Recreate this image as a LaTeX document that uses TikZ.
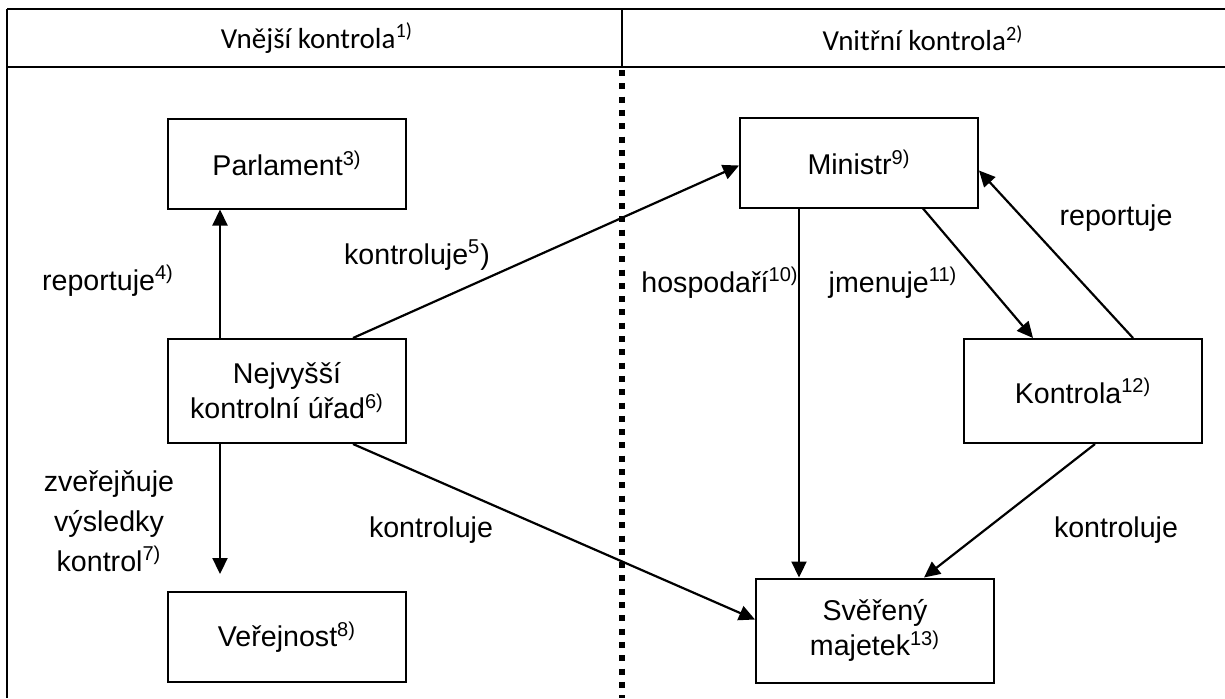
\documentclass[tikz,border=0pt]{standalone}
\usepackage{fontspec}
\setmainfont{Liberation Sans}
\newfontfamily\hdrfont{Carlito}
\usetikzlibrary{positioning,arrows.meta,calc}

\begin{document}
\begin{tikzpicture}[
  x=0.5pt,y=-0.5pt,
  font=\fontsize{14.3}{17.5}\selectfont,
  box/.style={rectangle,draw,line width=1pt,minimum width=119pt,minimum height=45pt,align=center,inner sep=0pt},
  tall/.style={box,minimum height=52pt},
  arr/.style={-{Triangle[length=8pt,width=7.5pt]},line width=1.1pt},
  rule/.style={line width=1.1pt},
  lbl/.style={inner sep=0pt,anchor=base},
  hdr/.style={font=\hdrfont\fontsize{14.5}{17}\selectfont,inner sep=0pt},
]
\useasboundingbox (0,0) rectangle (1225,698);
% table frame: header row, left edge, divider
\draw[rule] (7,9) -- (1225,9);
\draw[rule] (7,67) -- (1225,67);
\draw[rule] (7,9) -- (7,698);
\draw[rule] (622,9) -- (622,67);
\draw[line width=3pt,dash pattern=on 3pt off 3.65pt] (622,70) -- (622,698);
\node[hdr] (hext) at (317,38) {Vnější kontrola\textsuperscript{1)}};
\node[hdr] (hint) at (923,38) {Vnitřní kontrola\textsuperscript{2)}};
% --- vnejsi kontrola ---
\node[box] (parl) at (287,163.5) {Parlament\textsuperscript{3)}};
\node[tall] (nku) at (287,391) {Nejvyšší\\kontrolní úřad\textsuperscript{6)}};
\node[box] (ver) at (287,637) {Veřejnost\textsuperscript{8)}};
% --- vnitrni kontrola ---
\node[box] (min) at (859,162.5) {Ministr\textsuperscript{9)}};
\node[tall] (kon) at (1083,391) {Kontrola\textsuperscript{12)}};
\node[tall] (sve) at (875,630.5) {Svěřený\\majetek\textsuperscript{13)}};
% arrows
\draw[arr] ($(nku.north)+(-67,0)$) -- ($(parl.south)+(-67,0)$);
\draw[arr,shorten >=8.5pt] ($(nku.south)+(-67,0)$) -- ($(ver.north)+(-67,0)$);
\draw[arr] ($(nku.north)+(66,0)$) -- ($(min.west)+(0,3)$);
\draw[arr] ($(nku.south)+(66,0)$) -- ($(sve.west)+(0,-11)$);
\coordinate (hsp) at ($(min.south)+(-60,0)$);
\draw[arr] (hsp) -- (hsp |- sve.north);
\draw[arr] ($(min.south)+(64,0)$) -- ($(kon.north)+(-50,0)$);
\draw[arr] ($(kon.north)+(50,0)$) -- ($(min.east)+(0,8)$);
\draw[arr] ($(kon.south)+(12,0)$) -- ($(sve.north)+(49,0)$);
% labels
\node[lbl] (lrep) at (108,290) {reportuje\textsuperscript{4)}};
\node[lbl] (lkon) at (417,264) {kontroluje\textsuperscript{5})};
\node[align=center,inner sep=0pt,font=\fontsize{14.3}{20}\selectfont] (lzve) at (109,521) {zveřejňuje\\výsledky\\kontrol\textsuperscript{7)}};
\node[lbl] (lkon2) at (431,537) {kontroluje};
\node[lbl] (lhos) at (720,292) {hospodaří\textsuperscript{10)}};
\node[lbl] (ljme) at (893,292) {jmenuje\textsuperscript{11)}};
\node[lbl] (lrep2) at (1116,225) {reportuje};
\node[lbl] (lkon3) at (1116,537) {kontroluje};
\end{tikzpicture}
\end{document}
